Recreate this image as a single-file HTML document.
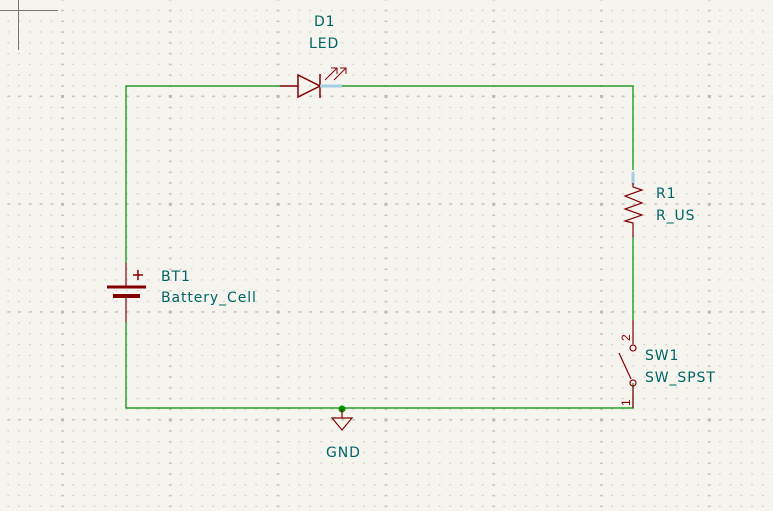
<!DOCTYPE html>
<html><head><style>html,body{margin:0;padding:0;background:#f5f4ef;}svg{display:block}</style></head><body>
<svg width="773" height="511" viewBox="0 0 773 511" xmlns="http://www.w3.org/2000/svg" font-family="Liberation Sans, DejaVu Sans, sans-serif">
<defs>
<pattern id="minor" x="7.3" y="9.8" width="10.78" height="10.78" patternUnits="userSpaceOnUse">
<rect x="0" y="0" width="2" height="1.2" fill="#d2d2cd"/>
</pattern>
<pattern id="majc" x="61" y="9.8" width="107.8" height="10.78" patternUnits="userSpaceOnUse">
<rect x="0" y="0" width="3" height="1.5" fill="#c8c8c3"/>
</pattern>
<pattern id="majr" x="7.3" y="95.5" width="10.78" height="107.8" patternUnits="userSpaceOnUse">
<rect x="0" y="0" width="3" height="1.5" fill="#c8c8c3"/>
</pattern>
<pattern id="majx" x="61" y="95" width="107.8" height="107.8" patternUnits="userSpaceOnUse">
<rect x="0" y="0" width="3" height="3" fill="#bcbcb7"/>
</pattern>
</defs>
<rect width="773" height="511" fill="#f5f4ef"/>
<rect width="773" height="511" fill="url(#minor)"/>
<rect width="773" height="511" fill="url(#majc)"/>
<rect width="773" height="511" fill="url(#majr)"/>
<rect width="773" height="511" fill="url(#majx)"/>
<line x1="0" y1="10.5" x2="58" y2="10.5" stroke="#777" stroke-width="1"/>
<line x1="18.5" y1="0" x2="18.5" y2="50" stroke="#777" stroke-width="1"/>
<g stroke="#008c00" stroke-width="1.2" fill="none">
<polyline points="280,86 126,86 126,263"/>
<polyline points="126,322 126,408 633,408 633,383"/>
<polyline points="342,86 633,86 633,170"/>
<line x1="633" y1="237" x2="633" y2="320"/>
</g>
<circle cx="342" cy="409" r="3.5" fill="#009600"/>
<g stroke="#840000" stroke-width="1.5" fill="none">
<line x1="280" y1="86" x2="298" y2="86"/>
<polygon points="298,75 298,97 320,86"/>
<line x1="320" y1="74" x2="320" y2="98"/>
<line x1="320" y1="86" x2="342" y2="86" stroke="#a0d0e0" stroke-width="3"/>
<g stroke-width="1">
<line x1="325" y1="80" x2="337" y2="68"/><polyline points="331,68 337,68 337,74"/>
<line x1="334" y1="80" x2="346" y2="68"/><polyline points="340,68 346,68 346,74"/>
</g>
</g>
<g stroke="#840000" stroke-width="1.2" fill="none">
<line x1="633" y1="172" x2="633" y2="185" stroke="#a0d0e0" stroke-width="3"/>
<polyline points="633,183 633,187 642,190 625,196 642,203 625,209 642,215 625,221 633,223 633,237"/>
</g>
<g stroke="#840000" stroke-width="1.2" fill="none">
<line x1="633" y1="320" x2="633" y2="344"/>
<circle cx="633" cy="348" r="3"/>
<circle cx="633" cy="383" r="3"/>
<line x1="619" y1="353" x2="631" y2="379"/>
<line x1="633" y1="386" x2="633" y2="408"/>
</g>
<g fill="#840000" font-size="12">
<text transform="translate(630,341) rotate(-90)">2</text>
<text transform="translate(630,406) rotate(-90)">1</text>
</g>
<g stroke="#840000" fill="none">
<line x1="126" y1="263" x2="126" y2="287" stroke-width="1.2"/>
<line x1="126" y1="296" x2="126" y2="322" stroke-width="1.2"/>
<line x1="107" y1="287" x2="146" y2="287" stroke-width="3"/>
<line x1="113" y1="296" x2="140" y2="296" stroke-width="4"/>
<line x1="133" y1="275" x2="143" y2="275" stroke-width="1.5"/>
<line x1="138" y1="270" x2="138" y2="280" stroke-width="1.5"/>
</g>
<g stroke="#840000" stroke-width="1.2" fill="none">
<line x1="342" y1="409" x2="342" y2="418"/>
<polygon points="332,418 352,418 342,430"/>
</g>
<g fill="#006464" font-size="14" letter-spacing="0.9" font-family="DejaVu Sans, Liberation Sans, sans-serif">
<text x="314" y="26">D1</text>
<text x="309" y="48">LED</text>
<text x="656" y="198">R1</text>
<text x="656" y="220">R_US</text>
<text x="645" y="360">SW1</text>
<text x="645" y="382">SW_SPST</text>
<text x="161" y="281">BT1</text>
<text x="161" y="302">Battery_Cell</text>
<text x="326" y="457">GND</text>
</g>
</svg>
</body></html>
